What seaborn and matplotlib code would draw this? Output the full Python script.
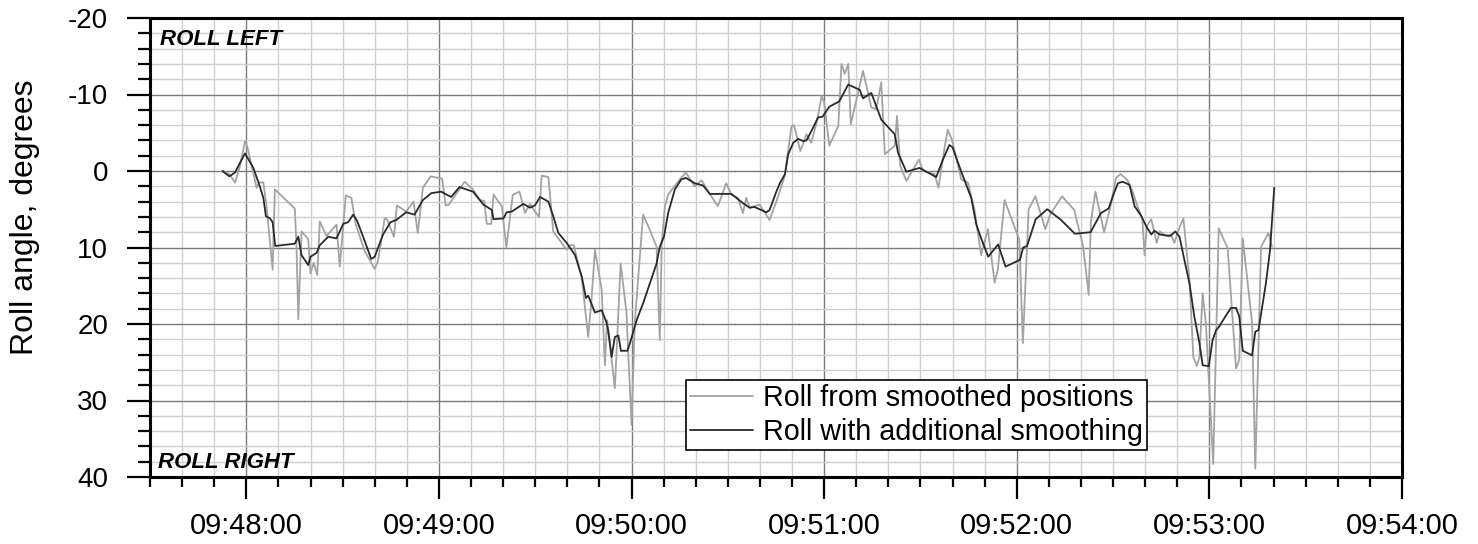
import numpy as np
import pandas as pd
import matplotlib
matplotlib.use("Agg")
import matplotlib.pyplot as plt
from matplotlib.ticker import MultipleLocator, FixedLocator, FixedFormatter
import seaborn as sns

# ---------------- data (time in seconds relative to 09:48:00, roll in degrees) ----------------
gray_t = [-7.4, -5.3, -3.5, -2.0, -0.4, 0.3, 3.2, 4.0, 5.3, 6.3,
          8.2, 8.9, 15.1, 15.6, 16.2, 17.2, 19.3, 20.0, 21.0, 22.1,
          22.9, 25.0, 28.1, 29.1, 31.0, 32.7, 34.1, 36.9, 40.0, 41.0,
          43.1, 43.8, 46.0, 46.9, 49.8, 52.1, 53.4, 55.0, 57.4, 61.0,
          62.1, 63.1, 68.0, 70.6, 72.8, 74.1, 74.9, 76.3, 77.0, 79.6,
          81.0, 83.0, 85.1, 86.8, 88.4, 89.9, 91.2, 92.0, 94.1, 95.6,
          97.5, 99.8, 100.8, 102.0, 104.5, 106.5, 107.5, 108.6, 110.7, 111.7,
          112.4, 114.8, 116.6, 118.4, 120.0, 121.0, 123.6, 125.7, 127.8, 128.8,
          129.4, 130.4, 131.4, 133.0, 135.0, 136.9, 139.7, 141.8, 143.9, 146.9,
          149.5, 151.1, 153.1, 154.7, 155.7, 156.8, 159.9, 163.0, 165.1, 167.7,
          169.8, 170.6, 172.6, 174.5, 176.0, 177.8, 179.2, 180.0, 181.6, 184.4,
          185.4, 186.4, 187.5, 188.3, 192.1, 194.7, 196.2, 197.8, 198.9, 202.0,
          202.7, 203.7, 205.6, 209.5, 210.8, 214.4, 215.6, 217.5, 218.5, 219.8,
          222.7, 224.8, 226.8, 228.9, 231.0, 233.1, 234.1, 236.2, 240.8, 241.9,
          243.7, 245.8, 248.9, 250.4, 254.1, 257.9, 260.7, 262.4, 263.1, 264.5,
          267.2, 269.2, 270.9, 272.3, 274.5, 276.2, 277.5, 279.1, 279.8, 280.5,
          281.9, 283.6, 284.5, 286.5, 288.0, 289.1, 290.2, 291.9, 293.8, 295.0,
          296.1, 296.9, 297.9, 298.9, 301.2, 302.9, 305.7, 308.3, 309.3, 310.4,
          313.3, 314.3, 316.1, 318.4, 319.5]
gray_roll = [0.0, 0.4, 1.5, -0.6, -3.9, -3.2, 2.2, 1.5, 1.5, 4.6,
             12.9, 2.4, 4.9, 9.4, 19.4, 7.9, 8.9, 13.4, 12.0, 13.6,
             6.6, 8.5, 7.0, 12.5, 3.2, 3.5, 7.0, 10.5, 12.8, 11.8,
             6.2, 6.3, 8.6, 4.5, 5.3, 4.0, 8.1, 2.2, 0.7, 1.0,
             4.5, 4.4, 1.4, 2.4, 3.8, 3.9, 6.9, 6.9, 3.1, 4.6,
             10.0, 3.1, 2.7, 5.5, 4.3, 5.3, 6.0, 0.6, 0.8, 7.9,
             9.0, 10.3, 9.7, 9.7, 14.0, 21.7, 17.0, 10.3, 15.5, 25.4,
             19.5, 28.4, 12.1, 18.4, 33.2, 19.9, 5.7, 7.7, 9.9, 22.1,
             9.5, 4.6, 3.1, 2.2, 1.1, 0.2, 2.0, 1.2, 2.7, 4.6,
             1.6, 3.1, 3.5, 5.5, 3.5, 4.8, 4.4, 6.4, 4.0, 0.7,
             -5.8, -6.0, -2.6, -4.8, -3.7, -6.6, -9.8, -9.0, -3.3, -5.9,
             -14.0, -12.7, -14.0, -6.1, -13.1, -8.3, -8.1, -11.6, -2.2, -3.3,
             -7.2, -0.7, 1.3, -1.5, 0.0, 0.4, 2.2, -3.0, -5.4, -4.1,
             1.1, 1.5, 5.0, 11.0, 7.6, 14.6, 12.9, 3.8, 9.0, 22.5,
             5.0, 3.3, 7.6, 5.7, 3.3, 5.1, 9.9, 16.2, 6.6, 2.7,
             8.0, 4.6, 0.9, 0.4, 1.2, 2.8, 4.5, 6.2, 11.0, 7.2,
             6.3, 9.4, 7.9, 8.5, 8.3, 9.4, 7.9, 6.2, 14.2, 24.3,
             25.5, 24.3, 16.0, 19.9, 38.3, 7.5, 10.1, 25.8, 24.7, 8.8,
             19.9, 38.9, 9.9, 8.1, 9.9]

dark_t = [-7.4, -5.3, -3.5, -2.0, -0.4, 2.2, 4.2, 5.3, 6.1, 7.4,
          8.2, 9.0, 15.1, 16.2, 17.2, 19.3, 20.0, 21.9, 22.9, 25.5,
          28.1, 30.2, 31.7, 33.3, 34.5, 36.4, 38.9, 40.0, 42.6, 44.9,
          46.7, 49.8, 52.4, 55.0, 57.6, 60.7, 63.8, 66.4, 70.6, 73.9,
          76.5, 77.0, 80.1, 81.1, 82.7, 86.3, 88.4, 89.9, 91.5, 94.1,
          95.6, 97.2, 99.8, 102.4, 104.5, 105.8, 106.5, 108.6, 110.7, 112.2,
          112.7, 113.8, 114.8, 115.9, 116.7, 118.7, 119.5, 121.6, 123.6, 127.8,
          128.8, 130.1, 131.4, 133.5, 135.5, 136.9, 139.7, 142.3, 144.4, 148.5,
          151.1, 154.7, 156.8, 158.3, 162.0, 163.0, 165.1, 166.2, 167.8, 168.8,
          170.4, 171.9, 173.5, 174.5, 176.6, 178.1, 179.5, 181.6, 184.7, 187.5,
          191.1, 192.1, 194.7, 197.8, 202.0, 203.0, 205.6, 209.7, 214.9, 217.0,
          219.0, 220.0, 222.8, 225.8, 227.4, 228.9, 231.1, 234.2, 236.5, 241.0,
          242.0, 243.2, 245.9, 249.5, 253.8, 258.1, 263.0, 266.2, 268.6, 270.2,
          271.5, 273.0, 275.1, 276.7, 278.8, 280.3, 281.9, 282.9, 284.5, 287.8,
          289.4, 290.7, 292.2, 293.8, 295.3, 296.9, 297.9, 299.8, 301.0, 302.1,
          303.1, 305.0, 306.7, 308.3, 309.3, 310.4, 313.3, 314.3, 315.3, 317.6,
          318.9, 320.2]
dark_roll = [0.0, 0.7, 0.2, -1.05, -2.3, -0.4, 2.0, 3.5, 5.9, 6.2,
             6.7, 9.8, 9.5, 8.6, 11.0, 12.3, 11.2, 10.7, 9.7, 8.6,
             8.8, 6.9, 6.7, 5.7, 6.5, 8.6, 11.5, 11.2, 8.3, 6.7,
             6.4, 5.4, 5.7, 3.8, 2.9, 2.7, 3.4, 2.1, 2.7, 4.4,
             5.1, 6.3, 6.2, 5.4, 5.3, 4.3, 4.8, 4.5, 3.4, 4.0,
             5.9, 8.1, 9.4, 11.0, 13.8, 16.6, 16.3, 18.5, 18.2, 19.8,
             20.8, 24.3, 21.7, 21.5, 23.5, 23.5, 22.5, 19.5, 17.3, 12.1,
             9.9, 8.6, 5.5, 2.4, 1.1, 0.9, 1.6, 1.9, 3.0, 3.0,
             3.0, 4.2, 4.8, 4.7, 5.4, 5.1, 2.7, 1.6, 0.4, -2.2,
             -3.7, -4.2, -3.9, -4.0, -5.7, -7.0, -7.1, -8.4, -9.1, -11.3,
             -10.6, -9.5, -10.2, -6.7, -4.8, -2.4, 0.1, -0.4, 0.8, -1.5,
             -3.4, -3.1, 0.2, 3.5, 7.0, 8.8, 11.2, 9.6, 12.5, 11.6,
             10.0, 9.8, 6.3, 5.0, 6.4, 8.2, 8.0, 5.5, 4.9, 3.0,
             1.6, 1.4, 1.8, 4.6, 5.9, 7.2, 8.3, 7.8, 8.3, 8.5,
             7.9, 8.6, 11.6, 14.7, 19.0, 22.5, 25.4, 25.5, 22.1, 20.8,
             20.3, 19.0, 17.9, 17.9, 19.0, 23.5, 24.1, 21.0, 20.8, 14.7,
             10.3, 2.2]

series_labels = ["Roll from smoothed positions", "Roll with additional smoothing"]
xtick_seconds = [0, 60, 120, 180, 240, 300, 360]
xtick_labels = ["09:48:00", "09:49:00", "09:50:00", "09:51:00", "09:52:00", "09:53:00", "09:54:00"]
ytick_values = [-20, -10, 0, 10, 20, 30, 40]
ytick_labels = ["-20", "-10", "0", "10", "20", "30", "40"]

# ---------------- style ----------------
sns.set_theme(style="white")
plt.rcParams["font.family"] = ["Liberation Sans", "DejaVu Sans"]
plt.rcParams["axes.unicode_minus"] = False
plt.rcParams["text.color"] = "black"
plt.rcParams["axes.labelcolor"] = "black"
plt.rcParams["xtick.color"] = "black"
plt.rcParams["ytick.color"] = "black"

df_gray = pd.DataFrame({"t": gray_t, "roll": gray_roll})
df_dark = pd.DataFrame({"t": dark_t, "roll": dark_roll})

fig = plt.figure(figsize=(14.78, 5.44), dpi=100)
ax = fig.add_axes([150 / 1478, 67 / 544, 1252 / 1478, 459 / 544])

sns.lineplot(data=df_gray, x="t", y="roll", ax=ax, color="#a3a3a3", lw=1.3,
             sort=False, estimator=None, label=series_labels[0], zorder=3)
sns.lineplot(data=df_dark, x="t", y="roll", ax=ax, color="#2a2a2a", lw=1.3,
             sort=False, estimator=None, label=series_labels[1], zorder=4)

ax.set_xlim(-30, 360)
ax.set_ylim(40, -20)

ax.xaxis.set_major_locator(FixedLocator(xtick_seconds))
ax.xaxis.set_major_formatter(FixedFormatter(xtick_labels))
ax.xaxis.set_minor_locator(MultipleLocator(10))
ax.yaxis.set_major_locator(FixedLocator(ytick_values))
ax.yaxis.set_major_formatter(FixedFormatter(ytick_labels))
ax.yaxis.set_minor_locator(MultipleLocator(2))

ax.set_axisbelow(True)
ax.grid(which="minor", color="#cfcfcf", lw=1.0)
ax.grid(which="major", color="#7a7a7a", lw=1.0)

ax.tick_params(axis="both", which="both", direction="out", colors="black", width=1.6,
               bottom=True, left=True, top=False, right=False)
ax.tick_params(axis="x", which="major", length=16, pad=9.5, labelsize=21)
ax.tick_params(axis="x", which="minor", length=7.5)
ax.tick_params(axis="y", which="major", length=16.5, pad=13.5, labelsize=20)
ax.tick_params(axis="y", which="minor", length=8.5)

for s in ax.spines.values():
    s.set_visible(True)
    s.set_color("black")
    s.set_linewidth(2.2)

ax.set_xlabel("")
ax.set_ylabel("Roll angle, degrees", fontsize=23, color="black")
ax.yaxis.set_label_coords(-0.0998, 0.566)
ax.yaxis.label.set_va("center")

ax.text(0.008, 0.941, "ROLL LEFT", transform=ax.transAxes, fontsize=16, color="black",
        fontweight="bold", fontstyle="italic", ha="left", va="baseline")
ax.text(0.0064, 0.0196, "ROLL RIGHT", transform=ax.transAxes, fontsize=16, color="black",
        fontweight="bold", fontstyle="italic", ha="left", va="baseline")

leg = ax.legend(loc="lower left", bbox_to_anchor=(0.428, 0.059), borderaxespad=0,
                fontsize=20.7, frameon=True, fancybox=False, shadow=False,
                handlelength=2.2, handletextpad=0.32, labelspacing=0.2,
                borderpad=0.15, framealpha=1)
leg.get_frame().set_edgecolor("black")
leg.get_frame().set_linewidth(1.2)
for txt in leg.get_texts():
    txt.set_color("black")
leg.set_zorder(10)

fig.savefig("out.png", dpi=100)
